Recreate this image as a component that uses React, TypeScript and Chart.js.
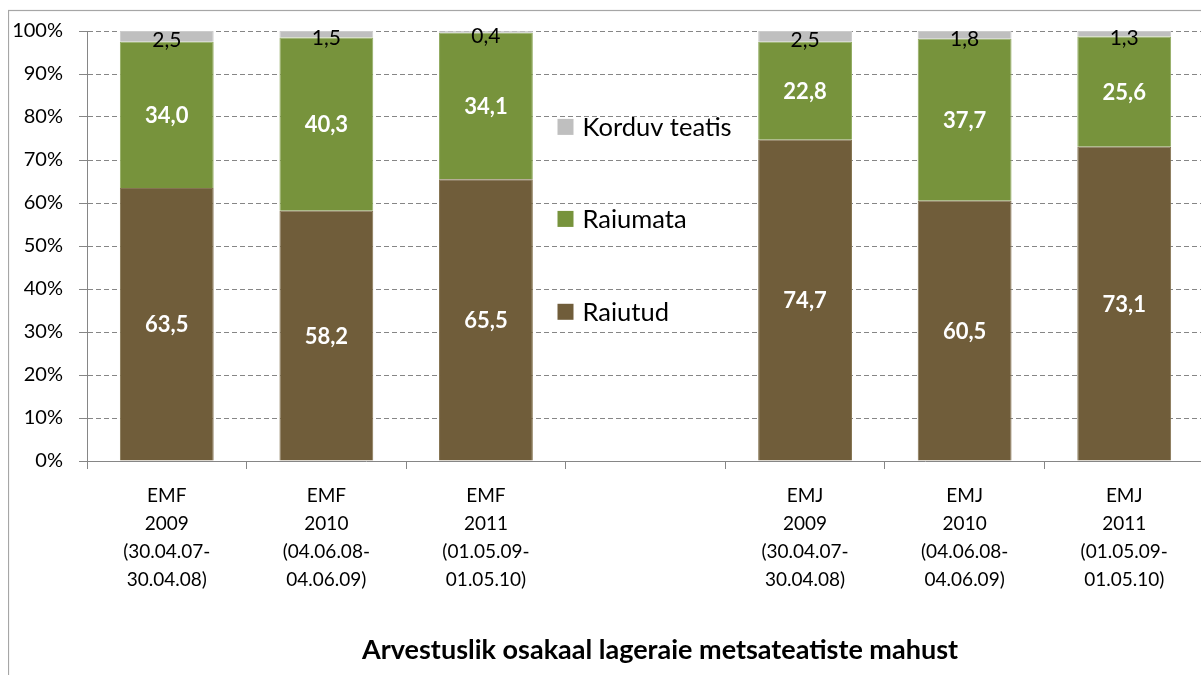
import React, { useEffect, useRef } from "react";
import { Chart, registerables } from "chart.js";

Chart.register(...registerables);

const categories: string[][] = [
  ["EMF", "2009", "(30.04.07-", "30.04.08)"],
  ["EMF", "2010", "(04.06.08-", "04.06.09)"],
  ["EMF", "2011", "(01.05.09-", "01.05.10)"],
  [""],
  ["EMJ", "2009", "(30.04.07-", "30.04.08)"],
  ["EMJ", "2010", "(04.06.08-", "04.06.09)"],
  ["EMJ", "2011", "(01.05.09-", "01.05.10)"],
];
const raiutud = [63.5, 58.2, 65.5, null, 74.7, 60.5, 73.1];
const raiumata = [34.0, 40.3, 34.1, null, 22.8, 37.7, 25.6];
const korduvTeatis = [2.5, 1.5, 0.4, null, 2.5, 1.8, 1.3];
const seriesNames = ["Raiutud", "Raiumata", "Korduv teatis"];
const seriesColors = ["#705D3A", "#77933C", "#BFBFBF"];
const seriesBorders = ["#857452", "#92AC62", "#CCCCCC"];
const labelColors = ["#FFFFFF", "#FFFFFF", "#000000"];
const axisTitle = "Arvestuslik osakaal lageraie metsateatiste mahust";

const FONT = "Lato, 'Open Sans', sans-serif";
const AXIS_GREY = "#868686";

const fmt = (v: number) => v.toFixed(1).replace(".", ",");

const decorPlugin = {
  id: "decor",
  beforeDraw(chart: any) {
    const ctx = chart.ctx;
    ctx.save();
    ctx.fillStyle = "#ffffff";
    ctx.fillRect(0, 0, chart.width, chart.height);
    ctx.strokeStyle = "#A6A6A6";
    ctx.lineWidth = 1.2;
    ctx.strokeRect(0.5, 2.5, chart.width + 20, chart.height + 20);
    ctx.restore();
  },
  afterDatasetsDraw(chart: any) {
    const ctx = chart.ctx;
    ctx.save();
    ctx.textAlign = "center";
    ctx.textBaseline = "middle";
    chart.data.datasets.forEach((ds: any, i: number) => {
      const meta = chart.getDatasetMeta(i);
      meta.data.forEach((el: any, j: number) => {
        const v = ds.data[j];
        if (v === null || v === undefined) return;
        const cy = (el.y + el.base) / 2;
        if (i === 2) {
          ctx.font = `400 21px ${FONT}`;
          ctx.fillStyle = labelColors[i];
          ctx.fillText(fmt(v), el.x, cy + 4);
        } else {
          ctx.font = `700 22px ${FONT}`;
          ctx.fillStyle = labelColors[i];
          ctx.fillText(fmt(v), el.x, cy + 1);
        }
      });
    });
    ctx.restore();
  },
  afterDraw(chart: any) {
    const ctx = chart.ctx;
    const area = chart.chartArea;
    const xs = chart.scales.x;
    ctx.save();
    // legend in the empty category
    const cx = xs.getPixelForValue(3);
    const left = cx - 88;
    const h = area.bottom - area.top;
    const fracs = [0.653, 0.437, 0.223];
    ctx.font = `400 25.5px ${FONT}`;
    ctx.textAlign = "left";
    ctx.textBaseline = "middle";
    for (let i = 2; i >= 0; i--) {
      const y = area.top + fracs[i] * h;
      ctx.fillStyle = seriesColors[i];
      ctx.fillRect(left, y - 8, 16, 16);
      ctx.fillStyle = "#000000";
      ctx.fillText(seriesNames[i], left + 25, y + 1);
    }
    // axis title
    ctx.font = `700 27px ${FONT}`;
    ctx.textAlign = "center";
    ctx.fillText(axisTitle, 652, 642);
    ctx.restore();
  },
};

export default function App() {
  const ref = useRef<HTMLCanvasElement | null>(null);
  useEffect(() => {
    if (!ref.current) return;
    const chart = new Chart(ref.current, {
      type: "bar",
      data: {
        labels: categories,
        datasets: [
          { label: seriesNames[0], data: raiutud, backgroundColor: seriesColors[0], borderColor: seriesBorders[0] },
          { label: seriesNames[1], data: raiumata, backgroundColor: seriesColors[1], borderColor: seriesBorders[1] },
          { label: seriesNames[2], data: korduvTeatis, backgroundColor: seriesColors[2], borderColor: seriesBorders[2] },
        ],
      },
      options: {
        responsive: false,
        animation: false,
        devicePixelRatio: 1,
        layout: { padding: { top: 23, right: 24, left: 0, bottom: 0 } },
        datasets: { bar: { categoryPercentage: 1, barPercentage: 0.588, borderWidth: 1 } },
        plugins: { legend: { display: false }, tooltip: { enabled: false }, title: { display: false } },
        scales: {
          x: {
            stacked: true,
            offset: true,
            grid: {
              display: true,
              offset: true,
              drawOnChartArea: false,
              drawTicks: true,
              tickLength: 8,
              color: AXIS_GREY,
            },
            border: { display: true, color: AXIS_GREY, width: 1 },
            ticks: {
              autoSkip: false,
              maxRotation: 0,
              minRotation: 0,
              padding: 13,
              color: "#000000",
              font: { family: FONT, size: 19, lineHeight: 1.47 },
            },
            afterFit: (s: any) => {
              s.height = 237;
              s.paddingLeft = 0;
              s.paddingRight = 0;
            },
          },
          y: {
            stacked: true,
            min: 0,
            max: 100,
            grid: {
              color: AXIS_GREY,
              drawTicks: true,
              tickLength: 8,
              tickBorderDash: [],
              tickColor: AXIS_GREY,
            },
            border: { display: true, color: AXIS_GREY, width: 1, dash: [5, 3] },
            ticks: {
              stepSize: 10,
              padding: 16,
              color: "#000000",
              font: { family: FONT, size: 20 },
              callback: (v: any) => `${v}%`,
            },
            afterFit: (s: any) => {
              s.width = 79;
              s.paddingTop = 0;
              s.paddingBottom = 0;
            },
          },
        },
      },
      plugins: [decorPlugin],
    } as any);
    return () => chart.destroy();
  }, []);
  return (
    <div
      style={{
        position: "fixed",
        left: 8,
        top: 8,
        width: 1193,
        height: 667,
        overflow: "hidden",
        background: "#fff",
      }}
    >
      <canvas ref={ref} width={1220} height={690} style={{ display: "block" }} />
    </div>
  );
}
